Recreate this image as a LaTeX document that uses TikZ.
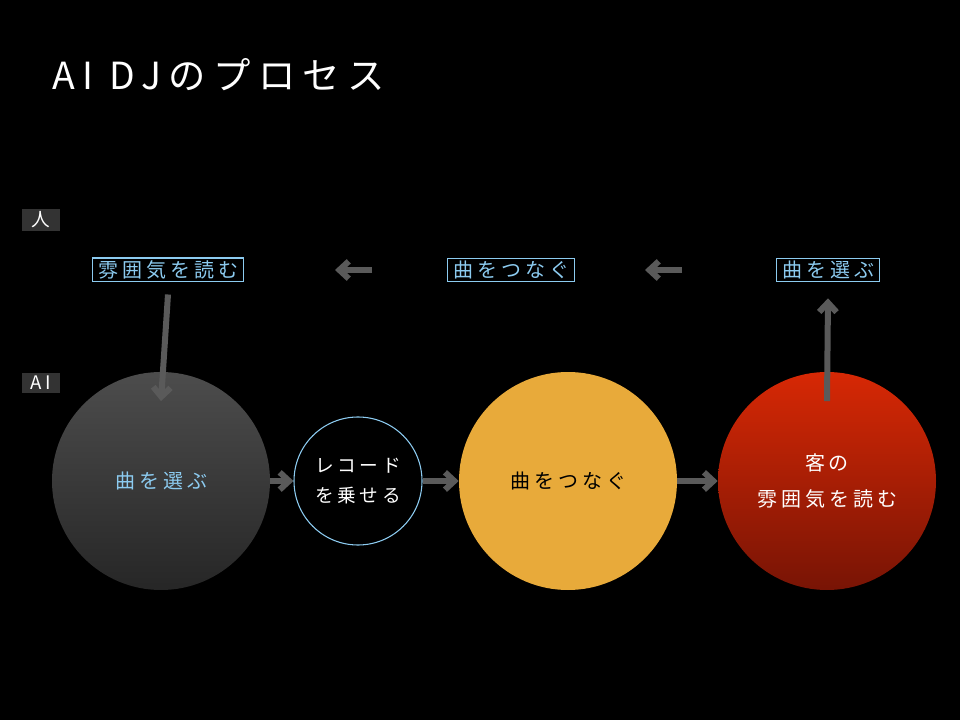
\documentclass[tikz,border=0pt]{standalone}
\usepackage{fontspec}
\setmainfont{Noto Sans CJK JP}[LetterSpace=20]
\usetikzlibrary{arrows.meta}
\definecolor{lb}{HTML}{8CCBF0}
\definecolor{ag}{HTML}{5A5A5A}
\begin{document}
\begin{tikzpicture}[x=0.75pt,y=-0.75pt,
  ar/.style={draw=ag,line width=4.5pt,-{Straight Barb[length=7pt,width=13pt,line width=4.5pt]}},
  hbox/.style={draw=lb,line width=0.8pt,text=lb,font=\fontsize{15}{18}\selectfont,inner xsep=4pt,inner ysep=2pt},
  tag/.style={fill=black!80!white,text=white,font=\fontsize{14}{16}\selectfont,inner sep=2pt,minimum width=28pt}]
\useasboundingbox[fill=black] (0,0) rectangle (960,720);
\node[anchor=west,text=white,font=\fontsize{28}{32}\selectfont] (title) at (48,75) {AI DJのプロセス};
\node[tag] (hito) at (41,220) {人};
\node[tag] (ai) at (41,383) {AI};
\node[hbox] (b1) at (168,270) {雰囲気を読む};
\node[hbox] (b2) at (511,270) {曲をつなぐ};
\node[hbox] (b3) at (828,270) {曲を選ぶ};
\coordinate (l1s) at (372,270); \coordinate (l1e) at (335,270);
\coordinate (l2s) at (682,270); \coordinate (l2e) at (645,270);
\draw[ar] (l1s) -- (l1e);
\draw[ar] (l2s) -- (l2e);
\node[circle,minimum size=163.5pt,inner sep=0,top color=black!70!white,bottom color=black!85!white,text=lb,font=\fontsize{15}{18}\selectfont] (c1) at (161,481) {曲を選ぶ};
\node[circle,minimum size=96pt,inner sep=0,draw=lb,line width=0.8pt,fill=black,text=white,align=center,font=\fontsize{14}{22}\selectfont] (c2) at (358,481) {レコード\\を乗せる};
\node[circle,minimum size=163.5pt,inner sep=0,fill={rgb,255:red,232;green,170;blue,58},text=black,font=\fontsize{15}{18}\selectfont] (c3) at (568,481) {曲をつなぐ};
\node[circle,minimum size=163.5pt,inner sep=0,top color={rgb,255:red,215;green,40;blue,5},bottom color={rgb,255:red,120;green,20;blue,5},text=white,align=center,font=\fontsize{15}{27}\selectfont] (c4) at (827,481) {客の\\雰囲気を読む};
\draw[ar] (b1.south) ++(0,12) coordinate (d1) -- ([yshift=-22]c1.north);
\draw[ar] ([yshift=-22]c4.north) ++(0,0) coordinate (u0) -- ([yshift=-12]b3.south);
\draw[ar] (c1.east) -- (c2.west);
\draw[ar] (c2.east) -- (c3.west);
\draw[ar] (c3.east) -- (c4.west);
\end{tikzpicture}
\end{document}
